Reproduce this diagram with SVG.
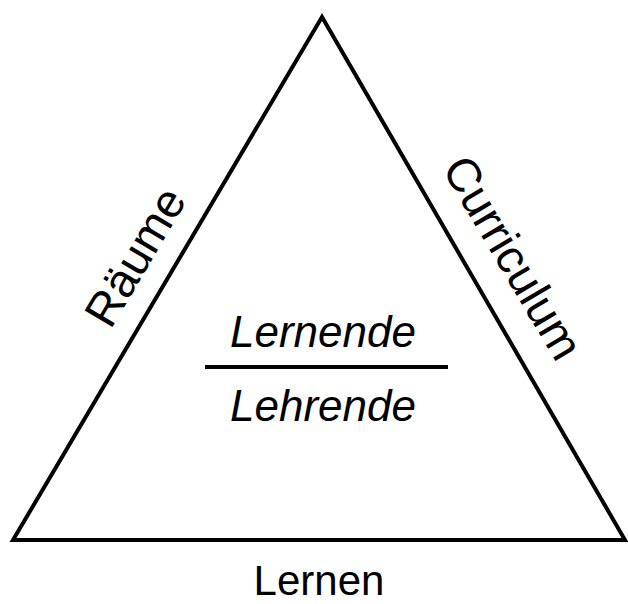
<svg xmlns="http://www.w3.org/2000/svg" width="628" height="604" viewBox="0 0 628 604">
<style>
.t{font-family:"Liberation Sans",Arial,sans-serif;font-size:42px;fill:#000;text-anchor:middle}
.i{font-style:italic;font-size:44px}
.side{font-size:47px}
.s{fill:none;stroke:#000;stroke-width:4}
</style>
<rect width="628" height="604" fill="#fff"/>
<g id="triangle">
<polygon class="s" points="322,17 13,540 625,540" stroke-linejoin="miter"/>
</g>
<g id="connectors">
<line class="s" x1="205" y1="367" x2="448" y2="367"/>
</g>
<g id="label-raeume"><text class="t side" transform="translate(149,265) rotate(-59.4)">Räume</text></g>
<g id="label-curriculum"><text class="t side" transform="translate(499,266) rotate(59.4)">Curriculum</text></g>
<g id="label-lernende"><text class="t i" x="323" y="347">Lernende</text></g>
<g id="label-lehrende"><text class="t i" x="323" y="421">Lehrende</text></g>
<g id="label-lernen"><text class="t" x="319" y="595">Lernen</text></g>
</svg>
